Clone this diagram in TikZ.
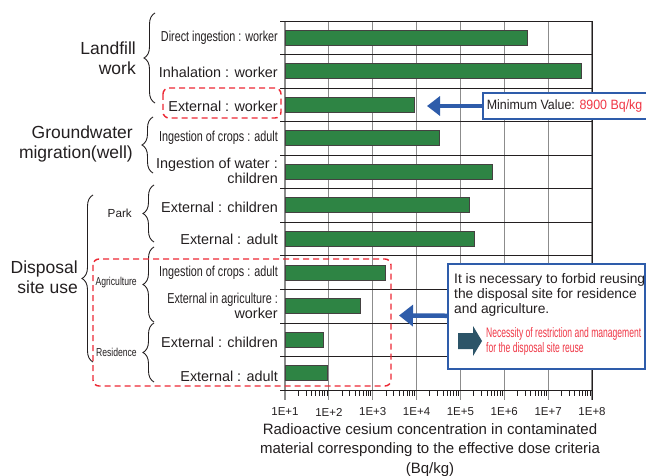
\documentclass[tikz,border=0pt]{standalone}
\usepackage{fontspec}
\setmainfont{Liberation Sans}
\newfontfamily\condfont[FakeStretch=0.75]{Liberation Sans}
\newfontfamily\minfont[FakeStretch=0.92]{Liberation Sans}
\newfontfamily\notefont[FakeStretch=0.62]{Liberation Sans}
\usetikzlibrary{arrows.meta, positioning, decorations.pathreplacing}
\definecolor{barcol}{RGB}{46,132,68}
\definecolor{inkcol}{RGB}{35,31,32}
\definecolor{gridcol}{RGB}{140,140,140}
\definecolor{dashcol}{RGB}{236,40,52}
\definecolor{bluecol}{RGB}{46,92,170}
\definecolor{redtxt}{RGB}{240,55,70}
\definecolor{iconcol}{RGB}{44,84,104}

\begin{document}
\begin{tikzpicture}[x=1pt, y=-1pt,
    rowlab/.style={anchor=east, align=right, inner sep=0pt, text=inkcol, font=\fontsize{14.4}{15.5}\selectfont},
    grplab/.style={anchor=east, align=right, inner sep=0pt, text=inkcol, font=\fontsize{17.5}{20}\selectfont},
    sublab/.style={anchor=east, inner sep=0pt, text=inkcol},
    brc/.style={decorate, decoration={brace, amplitude=11pt}, draw=inkcol, line width=0.9pt},
    bar/.style={draw=inkcol!85, fill=barcol, line width=1pt},
    vgrid/.style={draw=gridcol, line width=1.2pt},
    hgrid/.style={draw=inkcol, line width=0.7pt},
    reddash/.style={draw=dashcol, line width=1.4pt, dash pattern=on 6pt off 4pt, rounded corners=6pt},
    bluebox/.style={draw=bluecol, line width=1.6pt, fill=white},
    bluearrow/.style={-{Triangle[length=13pt, width=19pt]}, draw=bluecol, line width=3.5pt}
]
\useasboundingbox (0,0) rectangle (646,476);

% grid and axis
\foreach \k in {0,...,7}
    \draw[vgrid] ({285+43.86*\k},21) -- ({285+43.86*\k},400);
\foreach \i in {0,...,11}
    \draw[hgrid] (280,{21+33.545*\i}) -- (592,{21+33.545*\i});
\draw[hgrid] (592,21) -- (592,400);
\foreach \d in {0,...,6}
    \foreach \m in {2,...,9}
        \draw[inkcol, line width=0.6pt] ({285+43.86*(\d+log10(\m))},390) -- ++(0,6);
\foreach \k in {1,...,8}
    \node[text=inkcol, font=\fontsize{11.5}{13}\selectfont] (tick\k) at ({285+43.86*(\k-1)},412) {1E+\k};
\node[text=inkcol, align=center, font=\fontsize{15}{19.5}\selectfont] (xtitle) at (430,450)
    {Radioactive cesium concentration in contaminated\\material corresponding to the effective dose criteria\\(Bq/kg)};

% bars
\foreach \i/\e in {1/6.54, 2/7.77, 3/3.949, 4/4.53, 5/5.72, 6/5.21, 7/5.31, 8/3.28, 9/2.73, 10/1.87, 11/1.98} {
    \pgfmathsetmacro{\yc}{21+33.545*(\i-0.5)}
    \pgfmathsetmacro{\xe}{285+43.86*(\e-1)}
    \draw[bar] (285,\yc-7.5) rectangle (\xe,\yc+7.5);
}

% row labels
\node[rowlab] (r1) at (278,38) {\condfont Direct ingestion : worker};
\node[rowlab] (r2) at (278,72) {Inhalation : worker};
\node[rowlab] (r3) at (278,106) {External : worker};
\node[rowlab] (r4) at (278,138) {\condfont Ingestion of crops : adult};
\node[rowlab] (r5) at (278,171) {Ingestion of water :\\children};
\node[rowlab] (r6) at (278,207) {External : children};
\node[rowlab] (r7) at (278,239) {External : adult};
\node[rowlab] (r8) at (278,273) {\condfont Ingestion of crops : adult};
\node[rowlab] (r9) at (278,306) {{\condfont External in agriculture :}\\worker};
\node[rowlab] (r10) at (278,342) {External : children};
\node[rowlab] (r11) at (278,376) {External : adult};

% braces
\coordinate (lfT) at (155,13);  \coordinate (lfB) at (155,103);
\coordinate (gwT) at (153,117); \coordinate (gwB) at (153,173);
\coordinate (pkT) at (154,185); \coordinate (pkB) at (154,242);
\coordinate (agT) at (154,247); \coordinate (agB) at (154,322);
\coordinate (rsT) at (154,323); \coordinate (rsB) at (154,382);
\coordinate (dsT) at (93,195);  \coordinate (dsB) at (93,362);
\draw[brc] (lfB) -- (lfT);
\draw[brc] (gwB) -- (gwT);
\draw[brc] (pkB) -- (pkT);
\draw[brc] (agB) -- (agT);
\draw[brc] (rsB) -- (rsT);
\draw[brc] (dsB) -- (dsT);

% group labels
\node[grplab] (landfill) at (136,58) {Landfill\\work};
\node[grplab] (ground) at (133,144) {Groundwater\\migration(well)};
\node[grplab] (disposal) at (78,277) {Disposal\\site use};
\node[sublab, font=\fontsize{11.7}{13}\selectfont] (park) at (132,213) {Park};
\node[sublab, font=\condfont\fontsize{11.5}{13}\selectfont] (agri) at (137,283) {Agriculture};
\node[sublab, font=\condfont\fontsize{11.5}{13}\selectfont] (resid) at (137,352) {Residence};

% highlights
\draw[reddash] (163,88) rectangle (281,118);
\draw[reddash] (93,259) rectangle (391,386);

% minimum value note
\node[bluebox, anchor=west, minimum height=26, inner xsep=4pt, text=inkcol,
      font=\minfont\fontsize{13.5}{15}\selectfont] (minval) at (482,106)
      {Minimum Value: \textcolor{redtxt}{8900 Bq/kg}};
\coordinate (minpt) at (427,106);
\draw[bluearrow] (minval) -- (minpt);

% reuse note
\node[bluebox, anchor=north west, minimum width=197, minimum height=105] (advice) at (447,263) {};
\node[anchor=west, align=left, inner sep=0pt, text=inkcol, font=\fontsize{13.8}{15}\selectfont] (advtext) at (454,294.5)
    {It is necessary to forbid reusing\\the disposal site for residence\\and agriculture.};
\fill[iconcol] (458,333) -- (473,333) -- (473,326) -- (482,341) -- (473,356) -- (473,349) -- (458,349) -- cycle;
\node[anchor=west, align=left, inner sep=0pt, text=redtxt, font=\notefont\fontsize{13.8}{15}\selectfont] (need) at (486,341)
    {Necessity of restriction and management\\for the disposal site reuse};
\coordinate (advpt) at (399,315.5);
\draw[bluearrow, line width=4.5pt, -{Triangle[length=14pt, width=21pt]}] (advice) -- (advpt);
\end{tikzpicture}
\end{document}
